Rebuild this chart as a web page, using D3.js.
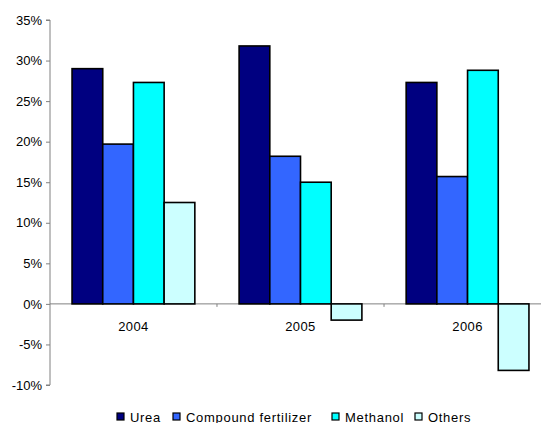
<!DOCTYPE html>
<html>
<head>
<meta charset="utf-8">
<script src="https://cdn.jsdelivr.net/npm/d3@7"></script>
<style>
  body { margin: 0; background: #fff; }
  text { font-family: "Liberation Sans", Arial, sans-serif; }
</style>
</head>
<body>
<div id="chart"></div>
<script>
const years = ["2004", "2005", "2006"];
const series = ["Urea", "Compound fertilizer", "Methanol", "Others"];
const urea = [29.0, 31.8, 27.3];
const compound = [19.7, 18.2, 15.7];
const methanol = [27.3, 15.0, 28.8];
const others = [12.5, -2.0, -8.2];
const yTicks = [-10, -5, 0, 5, 10, 15, 20, 25, 30, 35];
const colors = ["#000080", "#3366ff", "#00ffff", "#ccffff"];

let width = 541, height = 423,
    margin = ({ top: 20, right: -10, bottom: 38, left: 50 });

const values = [urea, compound, methanol, others];
const data = years.map((yr, i) => ({ year: yr, vals: series.map((s, j) => ({ key: s, value: values[j][i], idx: j })) }));

const svg = d3.select("#chart").append("svg")
    .attr("width", width).attr("height", height);

let x = d3.scaleBand().domain(years)
    .range([margin.left, width - margin.right]).paddingInner(0.265).paddingOuter(0.132);

let x1 = d3.scaleBand().domain(series).range([0, x.bandwidth()]);

let y = d3.scaleLinear().domain([-10, 35])
    .range([height - margin.bottom, margin.top]);

// y axis
svg.append("g")
    .attr("transform", `translate(${margin.left},0)`)
    .call(d3.axisLeft(y).tickValues(yTicks).tickFormat(d => d + "%").tickSize(4).tickPadding(4))
    .call(g => g.selectAll("line, path").attr("stroke", "#808080"))
    .call(g => g.select(".domain").attr("d", `M-4,${y(35)}H0V${y(-10)}H-4`))
    .call(g => g.selectAll("text").attr("font-size", 13).attr("fill", "#000"));

// zero line with category ticks
svg.append("line")
    .attr("x1", margin.left).attr("x2", width)
    .attr("y1", y(0)).attr("y2", y(0))
    .attr("stroke", "#808080").attr("stroke-width", 1);
svg.selectAll(".ctick").data(years.slice(1)).join("line")
    .attr("x1", d => x(d) - x.step() * x.paddingInner() / 2)
    .attr("x2", d => x(d) - x.step() * x.paddingInner() / 2)
    .attr("y1", y(0)).attr("y2", y(0) + 3)
    .attr("stroke", "#808080");

// bars
svg.append("g").selectAll("g")
    .data(data).join("g")
    .attr("transform", d => `translate(${x(d.year)},0)`)
    .selectAll("rect")
    .data(d => d.vals).join("rect")
    .attr("x", d => x1(d.key))
    .attr("y", d => y(Math.max(0, d.value)))
    .attr("width", x1.bandwidth())
    .attr("height", d => Math.abs(y(d.value) - y(0)))
    .attr("fill", d => colors[d.idx])
    .attr("stroke", "#000").attr("stroke-width", 1.6);

// category labels
svg.selectAll(".clabel").data(years).join("text")
    .attr("x", d => x(d) + x.bandwidth() / 2)
    .attr("y", y(0) + 27)
    .attr("text-anchor", "middle")
    .attr("font-size", 13)
    .attr("letter-spacing", 0.4)
    .text(d => d);

// legend
const legX = [117, 173, 332, 415];
const leg = svg.append("g").selectAll("g").data(series).join("g")
    .attr("transform", (d, i) => `translate(${legX[i]},413)`);
leg.append("rect").attr("width", 7).attr("height", 7)
    .attr("fill", (d, i) => colors[i]).attr("stroke", "#000").attr("stroke-width", 1.2);
leg.append("text").attr("x", 13).attr("y", 8.5)
    .attr("font-size", 13).attr("letter-spacing", 0.7).text(d => d);
</script>
</body>
</html>
